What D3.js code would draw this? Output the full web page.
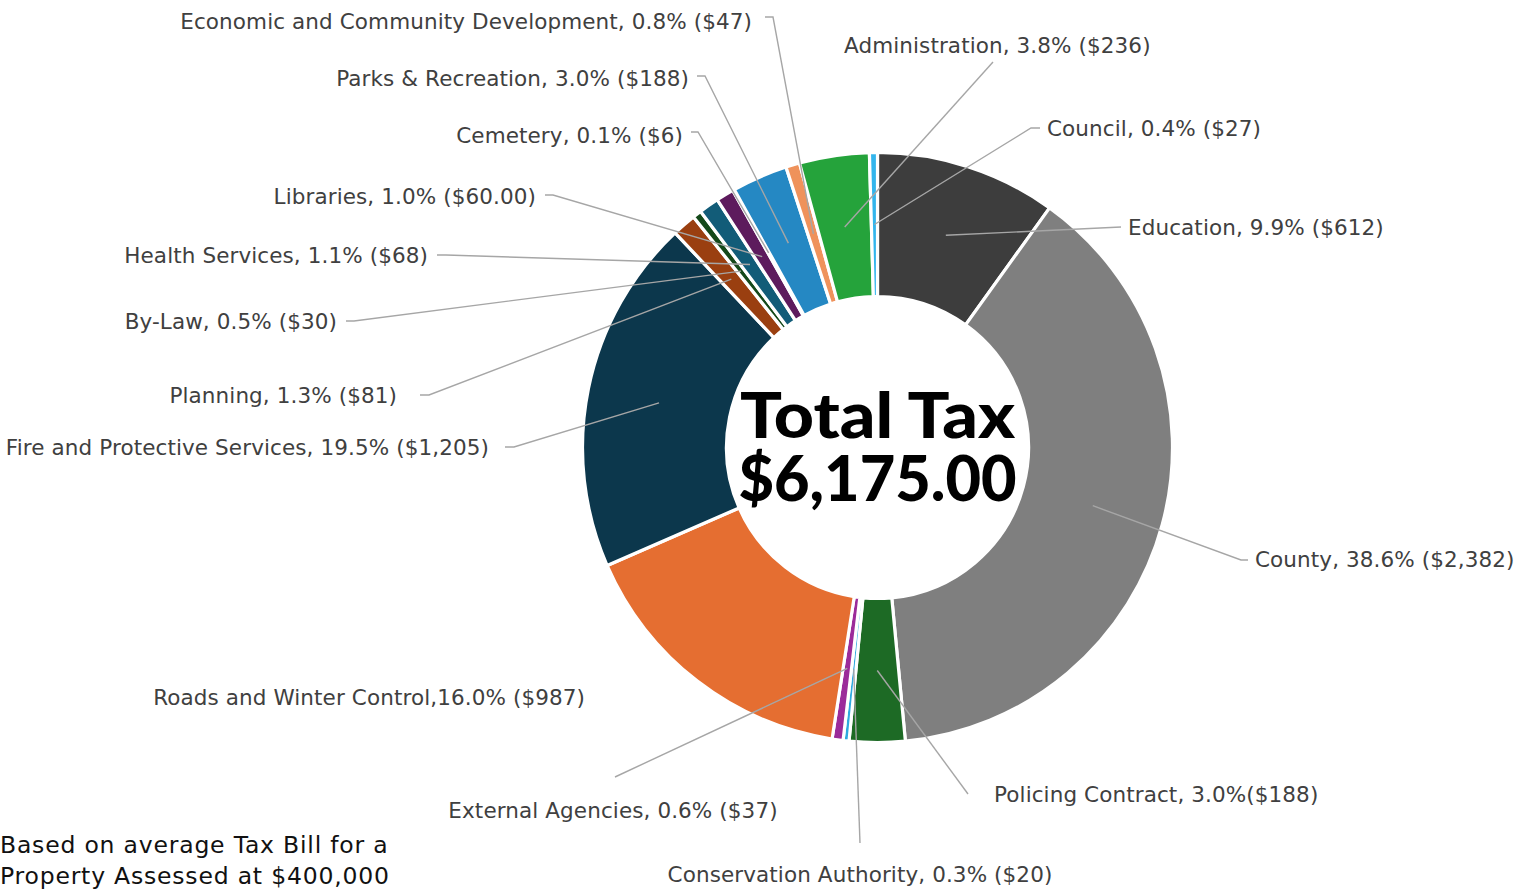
<!DOCTYPE html>
<html>
<head>
<meta charset="utf-8">
<script src="https://cdn.jsdelivr.net/npm/d3@7"></script>
<style>
  body { margin: 0; background: #fff; }
  svg { display: block; }
</style>
</head>
<body>
<div id="chart"></div>
<script>
// slices, clockwise from 12 o'clock
var categories = ["Education", "County", "Policing Contract", "Conservation Authority",
  "External Agencies", "Roads and Winter Control", "Fire and Protective Services",
  "Planning", "By-Law", "Health Services", "Libraries", "Cemetery",
  "Parks & Recreation", "Economic and Community Development", "Administration", "Council"];
var values = [612, 2382, 188, 20, 37, 987, 1205, 81, 30, 68, 60, 6, 188, 47, 236, 27];
var labelText = [
  "Education, 9.9% ($612)",
  "County, 38.6% ($2,382)",
  "Policing Contract, 3.0%($188)",
  "Conservation Authority, 0.3% ($20)",
  "External Agencies, 0.6% ($37)",
  "Roads and Winter Control,16.0% ($987)",
  "Fire and Protective Services, 19.5% ($1,205)",
  "Planning, 1.3% ($81)",
  "By-Law, 0.5% ($30)",
  "Health Services, 1.1% ($68)",
  "Libraries, 1.0% ($60.00)",
  "Cemetery, 0.1% ($6)",
  "Parks & Recreation, 3.0% ($188)",
  "Economic and Community Development, 0.8% ($47)",
  "Administration, 3.8% ($236)",
  "Council, 0.4% ($27)"
];
var centerLines = ["Total Tax", "$6,175.00"];
var footnote = ["Based on average Tax Bill for a", "Property Assessed at $400,000"];

var colors = ["#3d3d3d", "#7f7f7f", "#1d6a25", "#2fa9e0", "#9b2b9a", "#e56e31",
  "#0c374c", "#9a3f10", "#15491a", "#125c78", "#5d1b5d", "#c9c9c9",
  "#2588c3", "#ef925b", "#25a33b", "#33b5ec"];

// where each label sits, and the start (and elbow) of its leader line
var labelLayout = {
  "Education": {x: 1128, y: 227, anchor: "start", line: [[1121, 227]]},
  "County": {x: 1255, y: 559, anchor: "start", line: [[1248, 560], [1241, 560]]},
  "Policing Contract": {x: 994, y: 794, anchor: "start", line: [[968, 794]]},
  "Conservation Authority": {x: 860, y: 874, anchor: "middle", line: [[860, 843]]},
  "External Agencies": {x: 613, y: 810, anchor: "middle", line: [[615, 777]]},
  "Roads and Winter Control": {x: 585, y: 697, anchor: "end", line: null},
  "Fire and Protective Services": {x: 489, y: 447, anchor: "end", line: [[505, 447], [514, 447]]},
  "Planning": {x: 397, y: 395, anchor: "end", line: [[420, 395], [429, 395]]},
  "By-Law": {x: 337, y: 321, anchor: "end", line: [[346, 321], [354, 321]]},
  "Health Services": {x: 428, y: 255, anchor: "end", line: [[437, 255], [446, 255]]},
  "Libraries": {x: 536, y: 196, anchor: "end", line: [[545, 195], [553, 195]]},
  "Cemetery": {x: 683, y: 135, anchor: "end", line: [[691, 132], [698, 132]]},
  "Parks & Recreation": {x: 689, y: 78, anchor: "end", line: [[697, 76], [705, 76]]},
  "Economic and Community Development": {x: 752, y: 21, anchor: "end", line: [[765, 17], [773, 17]]},
  "Administration": {x: 844, y: 45, anchor: "start", line: [[993, 62]]},
  "Council": {x: 1047, y: 128, anchor: "start", line: [[1040, 128], [1031, 128]]}
};

var width = 1520, height = 890;
var cx = 877.5, cy = 447.5, outerR = 295, innerR = 151;

var svg = d3.select("#chart").append("svg")
  .attr("width", width)
  .attr("height", height);

var data = categories.map(function (c, i) {
  return {name: c, value: values[i], label: labelText[i], color: colors[i]};
});

var pie = d3.pie()
  .sort(null)
  .value(function (d) { return d.value; })
  .startAngle(0)
  .endAngle(2 * Math.PI);

var arcs = pie(data);

var arc = d3.arc()
  .innerRadius(innerR)
  .outerRadius(outerR);

var g = svg.append("g")
  .attr("transform", "translate(" + cx + "," + cy + ")");

g.selectAll("path.slice")
  .data(arcs)
  .enter().append("path")
  .attr("class", "slice")
  .attr("d", arc)
  .attr("fill", function (d) { return d.data.color; })
  .attr("stroke", "#fff")
  .attr("stroke-width", 3.2)
  .attr("stroke-linejoin", "miter");

// leader lines: from label, via elbow, to the middle of the ring
var lineGen = d3.line();
svg.append("g").selectAll("path.leader")
  .data(arcs.filter(function (d) { return labelLayout[d.data.name].line; }))
  .enter().append("path")
  .attr("class", "leader")
  .attr("fill", "none")
  .attr("stroke", "#a6a6a6")
  .attr("stroke-width", 1.4)
  .attr("d", function (d) {
    var c = arc.centroid(d);
    var pts = labelLayout[d.data.name].line.concat([[cx + c[0], cy + c[1]]]);
    return lineGen(pts);
  });

svg.append("g").selectAll("text.lbl")
  .data(arcs)
  .enter().append("text")
  .attr("class", "lbl")
  .attr("x", function (d) { return labelLayout[d.data.name].x; })
  .attr("y", function (d) { return labelLayout[d.data.name].y; })
  .attr("dy", "0.36em")
  .attr("text-anchor", function (d) { return labelLayout[d.data.name].anchor; })
  .style("font-family", "'DejaVu Sans', sans-serif")
  .style("font-size", "21.5px")
  .style("letter-spacing", "0.1px")
  .style("fill", "#404040")
  .text(function (d) { return d.data.label; });

// centre text
svg.append("g").selectAll("text.center")
  .data(centerLines)
  .enter().append("text")
  .attr("class", "center")
  .attr("x", cx)
  .attr("y", function (d, i) { return i === 0 ? 438 : 501; })
  .attr("text-anchor", "middle")
  .attr("textLength", function (d, i) { return i === 0 ? 275 : 278; })
  .attr("lengthAdjust", "spacingAndGlyphs")
  .style("font-family", "Lato, 'DejaVu Sans', sans-serif")
  .style("font-weight", 900)
  .style("font-size", "62px")
  .style("fill", "#000")
  .text(function (d) { return d; });

// footnote, bottom-left
svg.append("g").selectAll("text.note")
  .data(footnote)
  .enter().append("text")
  .attr("class", "note")
  .attr("x", 0)
  .attr("y", function (d, i) { return i === 0 ? 853 : 884; })
  .style("font-family", "'DejaVu Sans', sans-serif")
  .style("font-size", "23.5px")
  .style("letter-spacing", "0.8px")
  .style("fill", "#111")
  .text(function (d) { return d; });
</script>
</body>
</html>
